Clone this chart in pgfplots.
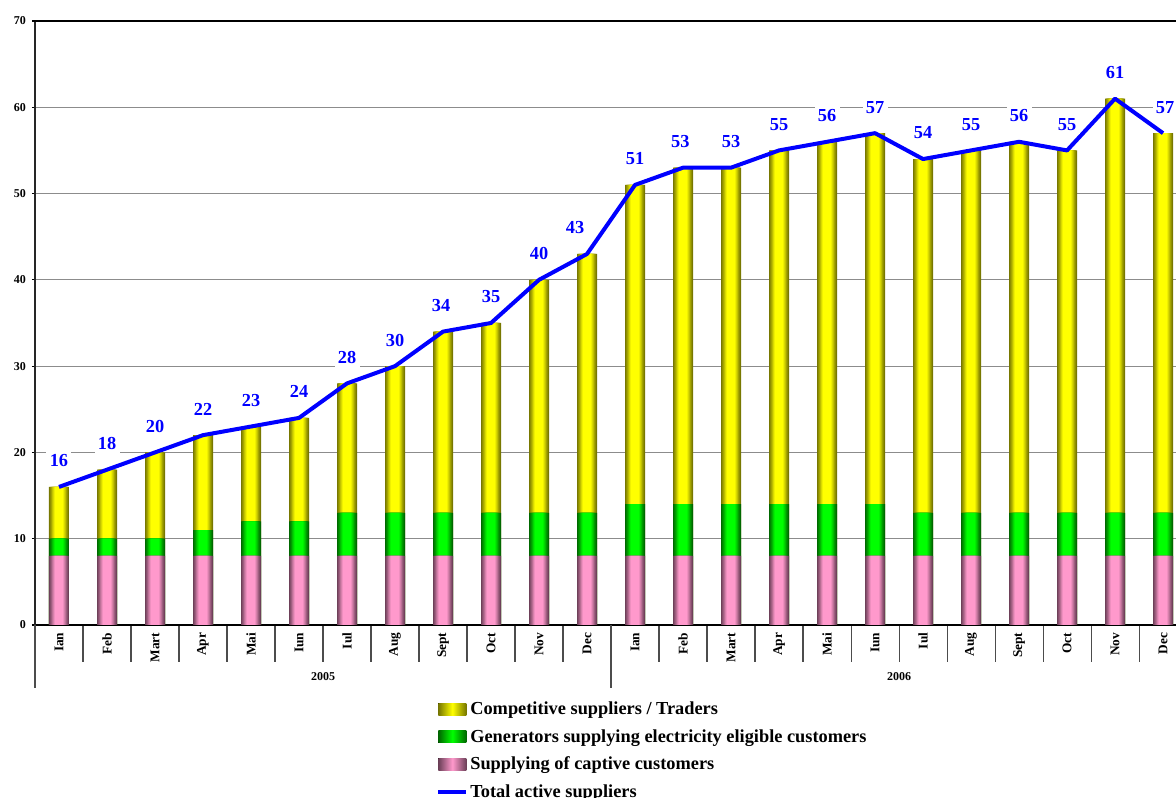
\documentclass[border=0pt]{standalone}
\usepackage{fontspec}
\setmainfont{Liberation Serif}
\usepackage{pgfplots}
\usepackage{pgfplotstable}
\pgfplotsset{compat=1.18}

\definecolor{yelEdge}{HTML}{767600}
\definecolor{yelMid}{HTML}{FFFF00}
\definecolor{grnEdge}{HTML}{006600}
\definecolor{grnMid}{HTML}{00FF00}
\definecolor{pnkEdge}{HTML}{6B3F57}
\definecolor{pnkMid}{HTML}{FF99CC}
\definecolor{lineBlue}{HTML}{0000FF}

% monthly number of suppliers by category (2005-2006);
% lx: horizontal offset (pt) of the value label
\pgfplotstableread{
x  pink green yellow total lx
0  8 2 6  16 0
1  8 2 8  18 0
2  8 2 10 20 0
3  8 3 11 22 0
4  8 4 11 23 0
5  8 4 12 24 0
6  8 5 15 28 0
7  8 5 17 30 0
8  8 5 21 34 -1.5
9  8 5 22 35 0
10 8 5 27 40 0
11 8 5 30 43 -9
12 8 6 37 51 0
13 8 6 39 53 -2
14 8 6 39 53 0
15 8 6 41 55 0
16 8 6 42 56 0
17 8 6 43 57 0
18 8 5 41 54 0
19 8 5 42 55 0
20 8 5 43 56 0
21 8 5 42 55 0
22 8 5 48 61 0
23 8 5 44 57 1.5
}\suppliers

\tikzset{
  yelshade/.style={left color=yelEdge, right color=yelEdge, middle color=yelMid, draw=none},
  grnshade/.style={left color=grnEdge, right color=grnEdge, middle color=grnMid, draw=none},
  pnkshade/.style={left color=pnkEdge, right color=pnkEdge, middle color=pnkMid, draw=none},
}

% one layer of bars: #1 height expression, #2 bar width, #3 fill colour
\newcommand{\barlayer}[3]{%
  \addplot[ybar, bar shift=0pt, bar width=#2, fill=#3, draw=none, forget plot]
    table[x=x, y expr=#1] {\suppliers};}
% cylinder-like bars: dark edges, bright centre (#2 edge, #3 centre)
\newcommand{\shadedbars}[3]{%
  \barlayer{#1}{15pt}{#2}%
  \barlayer{#1}{13.6pt}{#3!17!#2}%
  \barlayer{#1}{12.2pt}{#3!33!#2}%
  \barlayer{#1}{10.8pt}{#3!50!#2}%
  \barlayer{#1}{9.4pt}{#3!67!#2}%
  \barlayer{#1}{8pt}{#3!83!#2}%
  \barlayer{#1}{6.6pt}{#3}}

\newcommand{\smallbf}{\bfseries\fontsize{9}{10}\selectfont}
\newcommand{\monthbf}{\bfseries\fontsize{10}{11}\selectfont}
\newcommand{\bigbf}{\bfseries\fontsize{13.75}{15}\selectfont}

\begin{document}
\begin{tikzpicture}
\begin{axis}[
  scale only axis,
  width=855.75pt, height=453pt,
  xmin=-0.5, xmax=23.27, ymin=0, ymax=70,
  clip=false,
  axis x line*=bottom, axis y line*=left,
  x axis line style={black, line width=1.2pt},
  y axis line style={black!85, line width=1.4pt},
  ymajorgrids,
  major grid style={gray!90, line width=0.6pt},
  ytick={0,10,...,60},
  extra y ticks={70},
  extra y tick style={major grid style={black, line width=0.9pt}},
  xtick={0,...,23},
  xticklabels={Ian,Feb,Mart,Apr,Mai,Iun,Iul,Aug,Sept,Oct,Nov,Dec,
               Ian,Feb,Mart,Apr,Mai,Iun,Iul,Aug,Sept,Oct,Nov,Dec},
  minor xtick={-0.5,0.5,...,22.5},
  xtick align=outside, ytick align=outside,
  major tick length=2.25pt,
  minor tick length=27.75pt,
  major x tick style={draw=none},
  minor x tick style={black!70, line width=0.8pt},
  major y tick style={black, line width=0.8pt},
  /pgf/number format/assume math mode=true,
  x tick label style={rotate=90, anchor=east, font=\monthbf},
  y tick label style={font=\smallbf, xshift=-1pt},
  legend style={
    at={(axis description cs:0.3515,-0.1235)}, anchor=north west,
    draw=none, fill=none, inner sep=0pt, row sep=6.6pt,
    font=\bigbf,
    nodes={inner sep=1.5pt},
    legend cell align=left,
  },
]
% legend entries, listed top to bottom
\addlegendimage{legend image code/.code={
  \fill[yelshade] (0pt,-4.4pt) rectangle (21pt,4.4pt);}}
\addlegendentry{Competitive suppliers / Traders}
\addlegendimage{legend image code/.code={
  \fill[grnshade] (0pt,-4.4pt) rectangle (21pt,4.4pt);}}
\addlegendentry{Generators supplying electricity eligible customers}
\addlegendimage{legend image code/.code={
  \fill[pnkshade] (0pt,-4.4pt) rectangle (21pt,4.4pt);}}
\addlegendentry{Supplying of captive customers}
\addlegendimage{legend image code/.code={
  \draw[lineBlue, line width=3pt] (0pt,0pt) -- (21pt,0pt);}}
\addlegendentry{Total active suppliers}

% bars: each segment drawn from the bottom up to its cumulative top,
% the upper segments first so the lower ones cover them
\shadedbars{\thisrow{pink}+\thisrow{green}+\thisrow{yellow}}{yelEdge}{yelMid}
\shadedbars{\thisrow{pink}+\thisrow{green}}{grnEdge}{grnMid}
\shadedbars{\thisrow{pink}}{pnkEdge}{pnkMid}

% value labels of the total (drawn under the line)
\addplot[draw=none, mark=none, forget plot,
  visualization depends on={\thisrow{lx} \as \lblx},
  nodes near coords,
  every node near coord/.append style={anchor=center, yshift=19.5pt,
    xshift=\lblx pt, fill=white, inner sep=2.5pt, text=lineBlue, font=\bigbf}]
  table[x=x, y=total] {\suppliers};
% total line
\addplot[sharp plot, forget plot, lineBlue, line width=3pt,
  mark=none, line join=round]
  table[x=x, y=total] {\suppliers};

% year groups under the month labels
\draw[black!70, line width=0.8pt] (axis cs:-0.5,0) -- ++(0pt,-47.25pt);
\draw[black!70, line width=0.8pt] (axis cs:11.5,0) -- ++(0pt,-47.25pt);
\node[font=\smallbf] at ([yshift=-39pt]axis cs:5.5,0) {2005};
\node[font=\smallbf] at ([yshift=-39pt]axis cs:17.5,0) {2006};

\coordinate (bbSW) at (rel axis cs:0,0);
\coordinate (bbNE) at (rel axis cs:1,1);
\end{axis}
\pgfresetboundingbox
\path ([shift={(-26.25pt,-129.75pt)}]bbSW) rectangle ([shift={(0pt,15.75pt)}]bbNE);
\end{tikzpicture}
\end{document}
